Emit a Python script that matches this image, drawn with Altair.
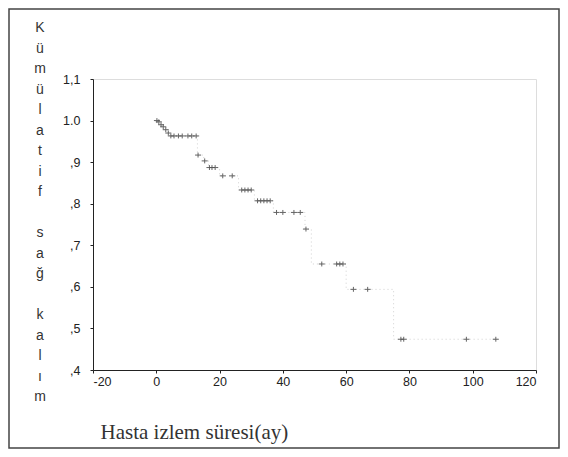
import altair as alt
import pandas as pd

# Kaplan-Meier step curve (time in months, cumulative survival)
step_time = [0, 0.8, 1.5, 2.2, 3.0, 3.8, 4.3, 13.0, 15.0, 16.5, 20.0, 26.0, 31.0, 37.0, 47.0, 49.0, 60.0, 75.0, 108.0]
step_surv = [1.0, 0.997, 0.99, 0.985, 0.978, 0.97, 0.963, 0.917, 0.903, 0.887, 0.867, 0.833, 0.807, 0.779, 0.739, 0.655, 0.594, 0.474, 0.474]

# censored observations (+ markers)
cens_time = [0.2, 0.8, 1.5, 2.2, 3.0, 3.8, 4.6, 5.6, 7.0, 8.2, 10.0, 11.2, 12.6,
             13.2, 15.3, 16.8, 17.6, 18.6, 21.0, 24.0, 27.0, 28.0, 29.0, 30.0,
             32.0, 33.0, 34.0, 35.0, 36.0, 38.0, 40.0, 43.5, 45.5, 47.3,
             52.3, 57.0, 58.0, 59.0, 62.3, 66.8, 77.3, 78.2, 98.0, 107.3]
cens_surv = [1.0, 0.997, 0.99, 0.985, 0.978, 0.97, 0.963, 0.963, 0.963, 0.963, 0.963, 0.963, 0.963,
             0.917, 0.903, 0.887, 0.887, 0.887, 0.867, 0.867, 0.833, 0.833, 0.833, 0.833,
             0.807, 0.807, 0.807, 0.807, 0.807, 0.779, 0.779, 0.779, 0.779, 0.739,
             0.655, 0.655, 0.655, 0.655, 0.594, 0.594, 0.474, 0.474, 0.474, 0.474]

x_ticks = [-20, 0, 20, 40, 60, 80, 100, 120]
y_ticks = [0.4, 0.5, 0.6, 0.7, 0.8, 0.9, 1.0, 1.1]
y_title = "Kümülatif sağ kalım"
x_title = "Hasta izlem süresi(ay)"

step_df = pd.DataFrame({"t": step_time, "s": step_surv})
cens_df = pd.DataFrame({"t": cens_time, "s": cens_surv})
title_df = pd.DataFrame({"ch": list(y_title), "row": list(range(len(y_title)))})

W, H = 443, 291
PL, PT, PR, PB = 85, 71, 24, 79

xscale = alt.Scale(domain=[-20, 120], nice=False, zero=False)
yscale = alt.Scale(domain=[0.4, 1.1], nice=False, zero=False)

xaxis = alt.Axis(values=x_ticks, title=x_title, grid=False, tickSize=3,
                 labelPadding=2, labelFontSize=12.5, labelColor="#222",
                 labelFont="Liberation Sans", domainColor="#222", tickColor="#222",
                 labelExpr="datum.value + ''",
                 titleFont="Liberation Serif", titleFontSize=21, titleFontWeight="normal",
                 titleColor="#333", titleAnchor="start", titleAlign="left",
                 titleX=7, titleY=68, titleBaseline="alphabetic")
yaxis = alt.Axis(values=y_ticks, title=None, grid=False, tickSize=3,
                 labelPadding=10, labelFontSize=12.5, labelColor="#222",
                 labelFont="Liberation Sans", domainColor="#222", tickColor="#222",
                 labelExpr="datum.value > 1.05 ? '1,1' : (datum.value > 0.95 ? '1.0' : replace(format(datum.value, '.1f'), '0.', ','))")

line = alt.Chart(step_df).mark_line(
    interpolate="step-after", color="#d0d0d0", strokeWidth=1, strokeDash=[1, 3]
).encode(
    x=alt.X("t:Q", scale=xscale, axis=xaxis),
    y=alt.Y("s:Q", scale=yscale, axis=yaxis),
)

pts = alt.Chart(cens_df).mark_point(
    shape="M-1.1,0L1.1,0M0,-0.9L0,0.9", size=30, filled=False,
    color="#555555", strokeWidth=1, opacity=0.9
).encode(
    x=alt.X("t:Q", scale=xscale),
    y=alt.Y("s:Q", scale=yscale),
)

km = alt.layer(line, pts)

ytitle = alt.Chart(title_df).mark_text(
    font="Liberation Sans", fontSize=14, color="#333", align="center", baseline="middle"
).encode(
    x=alt.value(-53),
    y=alt.Y("row:Q", scale=alt.Scale(domain=[0, len(y_title) - 1], range=[-51, 318]), axis=None),
    text="ch:N",
)

frame = alt.Chart(alt.Data(values=[{"a": 1}])).mark_rect(
    fill=None, stroke="#444444", strokeWidth=1.5
).encode(
    x=alt.value(-PL + 1), x2=alt.value(W + PR - 1),
    y=alt.value(-PT + 1), y2=alt.value(H + PB - 1),
)

chart = alt.layer(frame, km, ytitle).resolve_scale(y="independent").properties(
    width=W, height=H,
    autosize=alt.AutoSizeParams(type="none"),
    padding={"left": PL, "top": PT, "right": PR, "bottom": PB},
).configure_view(stroke="#222", strokeWidth=1).configure(background="white")

chart.save("out.html", embed_options={"renderer": "svg", "actions": False})
